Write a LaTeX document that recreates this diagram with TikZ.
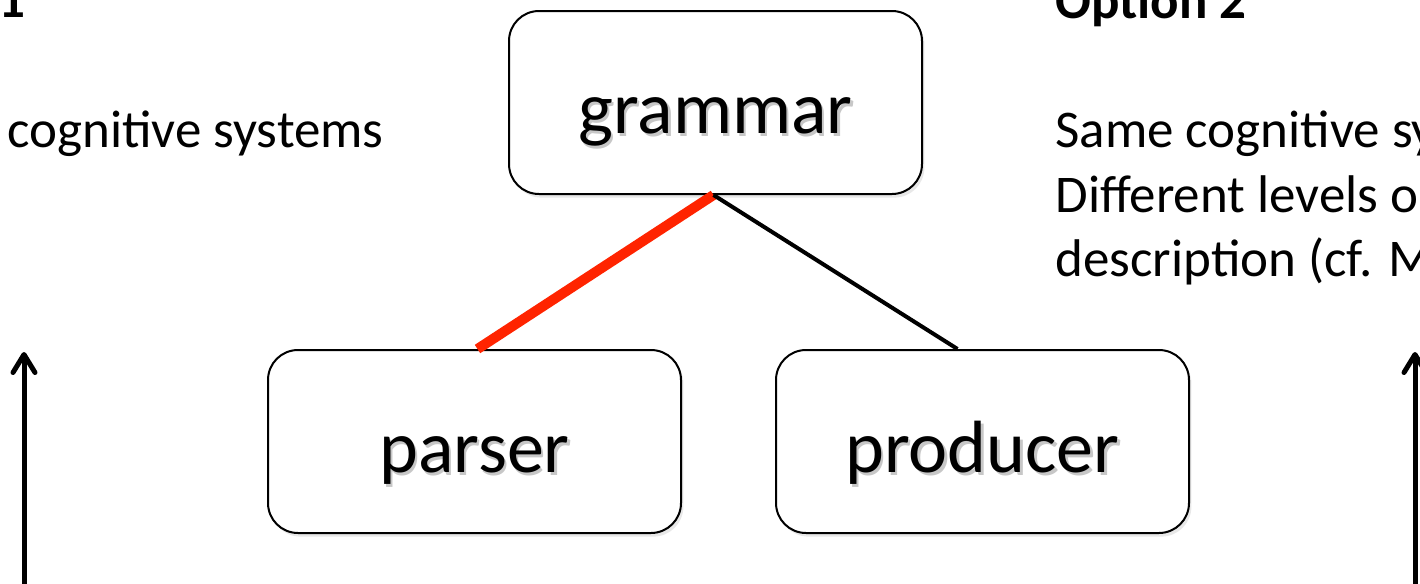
\documentclass[tikz,border=0pt]{standalone}
\usepackage{fontspec}
\setmainfont{Carlito}
\usetikzlibrary{arrows.meta,shadows,calc}
\newcommand{\shtext}[1]{\rlap{\kern1.2pt\raisebox{-1.6pt}{\textcolor{black!22}{#1}}}#1}
\tikzset{
  box/.style={draw=black, line width=1pt, rounded corners=15pt, fill=white,
    minimum width=206.5pt, minimum height=91.5pt, text height=30.5pt, text depth=0pt,
    inner sep=0pt, font=\fontsize{37}{44}\selectfont,
    drop shadow={shadow xshift=1.2pt, shadow yshift=-1.8pt, opacity=0.18}},
  label/.style={anchor=base west, inner sep=0pt, font=\fontsize{26.5}{32}\selectfont},
  head/.style={label, font=\fontsize{26.5}{32}\selectfont\bfseries},
  redlink/.style={draw={rgb,255:red,255;green,36;blue,0}, line width=5pt},
  blacklink/.style={draw=black, line width=2pt},
  uparrow/.style={draw=black, line width=2.5pt, -{Straight Barb[round, length=9pt, width=11pt, line width=2.5pt]}}
}
\begin{document}
\begin{tikzpicture}[x=0.5pt, y=-0.5pt]
\clip (0,0) rectangle (1420,584);
\fill[white] (0,0) rectangle (1420,584);
% boxes
\node[box] (grammar) at (715.5,102.5) {\shtext{grammar}};
\node[box] (parser) at (474.5,441.5) {\shtext{parser}};
\node[box] (producer) at (982.5,441.5) {\shtext{producer}};
% connectors
\draw[redlink] ([xshift=-1pt]grammar.south) -- ([xshift=1.5pt]parser.north);
\draw[blacklink] ([xshift=-1pt]grammar.south) -- ([xshift=-12.5pt]producer.north);
% side texts
\node[head] (opt1) at (-2,17) {1};
\node[label] (left1) at (7,147) {cognitive systems};
\node[head] (opt2) at (1055,18) {Option 2};
\node[label] (r1) at (1055,147) {Same cognitive sy};
\node[label] (r2) at (1055,212) {Different levels o};
\node[label] (r3) at (1055,276) {description (cf. M};
% arrows
\coordinate (la) at (24,600);
\coordinate (lb) at (24,352);
\coordinate (ra) at (1415,600);
\coordinate (rb) at (1415,352);
\draw[uparrow] (la) -- (lb);
\draw[uparrow] (ra) -- (rb);
\end{tikzpicture}
\end{document}
